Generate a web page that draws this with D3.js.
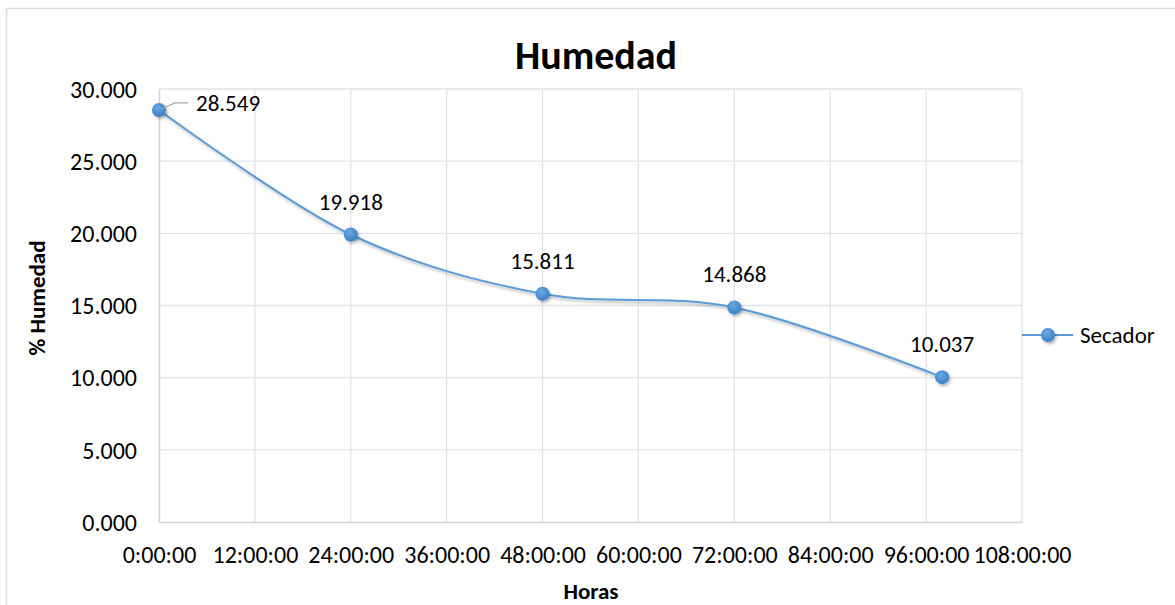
<!DOCTYPE html>
<html>
<head>
<meta charset="utf-8">
<script src="https://cdn.jsdelivr.net/npm/d3@7"></script>
<style>
  body { margin: 0; background: #fff; }
  svg { font-family: Carlito, Lato, "Open Sans", sans-serif; }
</style>
</head>
<body>
<div id="chart"></div>
<script>
// data
var hours = [0, 24, 48, 72, 98];
var humedad = [28.549, 19.918, 15.811, 14.868, 10.037];
var xTicks = [0, 12, 24, 36, 48, 60, 72, 84, 96, 108];
var yTicks = [0, 5, 10, 15, 20, 25, 30];
var seriesName = "Secador";

var width = 1175, height = 605;
var margin = [89, 153, 83, 159]; // top right bottom left

var svg = d3.select("#chart").append("svg")
    .attr("width", width).attr("height", height);

var defs = svg.append("defs");
var shadow = defs.append("filter").attr("id", "shadow")
    .attr("x", "-50%").attr("y", "-50%").attr("width", "200%").attr("height", "200%");
shadow.append("feDropShadow").attr("dx", 1.5).attr("dy", 2).attr("stdDeviation", 1.5)
    .attr("flood-color", "#000").attr("flood-opacity", 0.3);
var grad = defs.append("radialGradient").attr("id", "dot").attr("cx", "40%").attr("cy", "35%").attr("r", "65%");
grad.append("stop").attr("offset", "0%").attr("stop-color", "#6aa8e0");
grad.append("stop").attr("offset", "100%").attr("stop-color", "#3c80c6");

// chart border (only top and left visible)
svg.append("rect").attr("x", 6.5).attr("y", 8.5).attr("width", 1200).attr("height", 700)
    .attr("fill", "none").attr("stroke", "#d9dde4").attr("stroke-width", 1.5);

var x = d3.scaleLinear().domain([0, 108]).range([margin[3], width - margin[1]]);
var y = d3.scaleLinear().domain([0, 30]).range([height - margin[2], margin[0]]);

// grid
svg.append("g").selectAll("line").data(xTicks.slice(1)).enter().append("line")
    .attr("x1", d => x(d)).attr("x2", d => x(d))
    .attr("y1", y(0)).attr("y2", y(30))
    .attr("stroke", "#dfe3ea").attr("stroke-width", 1.3);
svg.append("g").selectAll("line").data(yTicks.slice(1)).enter().append("line")
    .attr("x1", x(0)).attr("x2", x(108))
    .attr("y1", d => y(d)).attr("y2", d => y(d))
    .attr("stroke", "#dfe3ea").attr("stroke-width", 1.3);

// axes
var xAxis = svg.append("g").attr("transform", "translate(0," + y(0) + ")")
    .call(d3.axisBottom(x).tickValues(xTicks).tickSize(0).tickPadding(30)
        .tickFormat(d => d + ":00:00"));
var yAxis = svg.append("g").attr("transform", "translate(" + x(0) + ",0)")
    .call(d3.axisLeft(y).tickValues(yTicks).tickSize(0).tickPadding(22)
        .tickFormat(d3.format(".3f")));
[xAxis, yAxis].forEach(function (a) {
    a.attr("font-family", null).attr("font-size", 24);
    a.select(".domain").attr("stroke", "#cdd2dc").attr("stroke-width", 1.5);
    a.selectAll("text").attr("fill", "#000");
});
yAxis.selectAll("text").attr("dy", "0.34em");
xAxis.selectAll("text").attr("dy", "0.46em");

// title and axis titles
svg.append("text").attr("x", 596).attr("y", 69).attr("text-anchor", "middle")
    .attr("font-weight", "bold").attr("font-size", 40).text("Humedad");
svg.append("text").attr("x", 591).attr("y", 599).attr("text-anchor", "middle")
    .attr("font-weight", "bold").attr("font-size", 23).text("Horas");
svg.append("text").attr("transform", "translate(45,298) rotate(-90)").attr("text-anchor", "middle")
    .attr("font-weight", "bold").attr("font-size", 23).text("% Humedad");

var pts = hours.map((h, i) => [h, humedad[i]]);

var line = d3.line().x(d => x(d[0])).y(d => y(d[1])).curve(d3.curveCatmullRom.alpha(0));
svg.append("path").datum(pts).attr("d", line)
    .attr("fill", "none").attr("stroke", "#5b9bd5").attr("stroke-width", 2)
    .attr("filter", "url(#shadow)");

svg.append("g").selectAll("circle").data(pts).enter().append("circle")
    .attr("cx", d => x(d[0])).attr("cy", d => y(d[1])).attr("r", 7)
    .attr("fill", "url(#dot)").attr("filter", "url(#shadow)");

// data labels
var labels = svg.append("g").attr("font-size", 23);
pts.forEach(function (d, i) {
    if (i === 0) {
        var px = x(d[0]), py = y(d[1]);
        labels.append("path")
            .attr("d", "M" + (px + 2) + "," + (py - 1) + "L" + (px + 16) + "," + (py - 7) + "H" + (px + 29))
            .attr("fill", "none").attr("stroke", "#a6a6a6").attr("stroke-width", 1.2);
        labels.append("text").attr("x", px + 37).attr("y", py + 1)
            .text(d3.format(".3f")(d[1]));
    } else {
        labels.append("text").attr("x", x(d[0])).attr("y", y(d[1]) - 25)
            .attr("text-anchor", "middle").text(d3.format(".3f")(d[1]));
    }
});

// legend
var lg = svg.append("g").attr("transform", "translate(1022,335)");
lg.append("line").attr("x1", 0).attr("x2", 51).attr("stroke", "#5b9bd5").attr("stroke-width", 2);
lg.append("circle").attr("cx", 26).attr("r", 7).attr("fill", "url(#dot)").attr("filter", "url(#shadow)");
lg.append("text").attr("x", 58).attr("y", 8).attr("font-size", 23).text(seriesName);
</script>
</body>
</html>
